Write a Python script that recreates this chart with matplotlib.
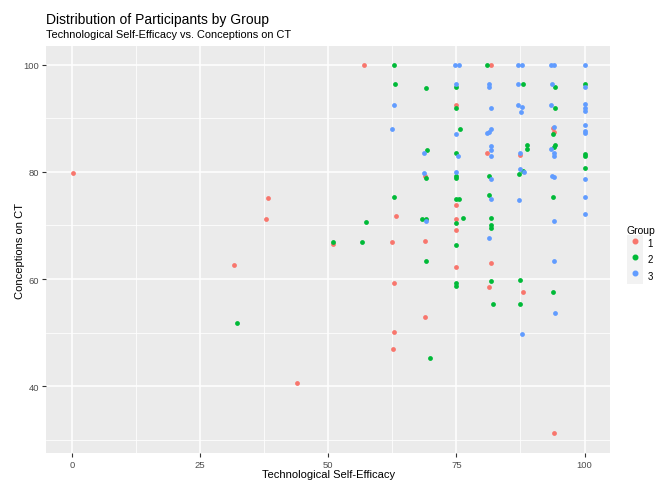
import matplotlib
matplotlib.use("Agg")
import matplotlib.pyplot as plt  # noqa: E402
from matplotlib.lines import Line2D  # noqa: E402
from matplotlib.patches import Patch  # noqa: E402
from matplotlib.legend_handler import HandlerTuple  # noqa: E402

plt.rcParams["font.family"] = ["Liberation Sans", "DejaVu Sans"]

# values (x = self-efficacy, y = conceptions on CT)
g1_x = [0.2, 31.7, 37.9, 38.3, 44.0, 50.9, 56.9, 62.5, 63.3, 62.8, 62.8, 62.7,
        68.9, 68.9, 68.9, 75.0, 75.0, 75.0, 75.0, 75.0, 81.7, 81.0, 81.7, 81.4,
        87.4, 88.0, 93.8, 94.0, 94.1]
g1_y = [79.8, 62.6, 71.2, 75.1, 40.7, 66.6, 100, 67.0, 71.8, 59.3, 50.1, 46.9,
        67.1, 79.2, 52.9, 92.5, 73.8, 71.3, 69.2, 62.2, 100, 83.6, 63.0, 58.5,
        83.2, 57.5, 88.1, 87.5, 31.2]

g2_x = [32.2, 50.9, 56.5, 57.3, 62.8, 63.0, 62.8, 69.1, 69.3, 69.0, 68.2, 69.1,
        69.1, 69.8, 75.0, 75.0, 75.7, 75.0, 75.0, 75.0, 75.0, 75.5, 76.3, 75.0,
        75.0, 75.0, 75.0, 81.0, 81.4, 81.4, 81.7, 81.7, 81.7, 81.7, 82.1, 88.0,
        88.8, 88.8, 88.0, 87.3, 87.4, 87.4, 94.2, 94.2, 93.9, 94.3, 94.0, 93.9,
        93.9, 100, 100, 100, 100]
g2_y = [51.8, 67.0, 66.9, 70.6, 100, 96.3, 75.4, 95.7, 84.1, 78.8, 71.2, 71.2,
        63.4, 45.3, 95.9, 92.0, 88.0, 83.6, 79.3, 78.8, 75.0, 75.0, 71.4, 70.4,
        66.3, 59.3, 58.8, 100, 79.2, 75.7, 71.4, 70.1, 69.6, 59.6, 55.3, 96.3,
        85.0, 84.3, 80.1, 79.6, 59.9, 55.4, 95.9, 92.0, 87.0, 85.0, 84.6, 75.4,
        57.5, 96.3, 83.3, 82.9, 80.8]

g3_x = [62.8, 62.4, 68.6, 68.6, 69.1, 74.7, 75.5, 75.0, 75.0, 75.4, 75.0, 81.4,
        81.4, 81.7, 81.7, 81.4, 81.0, 81.8, 81.7, 81.7, 81.7, 81.7, 81.4, 87.0,
        87.8, 87.0, 87.0, 87.8, 87.6, 87.4, 87.4, 88.2, 87.3, 87.8, 93.5, 94.1,
        93.7, 93.5, 94.1, 93.5, 94.1, 94.1, 93.6, 94.1, 94.1, 94.1, 94.3, 100,
        100, 100, 100, 100, 100, 100, 100, 100, 100, 100]
g3_y = [92.4, 88.0, 83.5, 79.8, 70.9, 100, 100, 96.3, 87.0, 83.0, 80.0, 96.3,
        95.9, 92.0, 88.0, 87.5, 87.2, 84.9, 84.1, 82.9, 78.7, 75.0, 67.6, 100,
        100, 96.3, 92.4, 92.1, 91.2, 83.6, 80.6, 79.9, 74.8, 49.7, 100, 100,
        96.3, 92.4, 88.3, 84.3, 83.6, 83.0, 79.3, 79.1, 70.8, 63.4, 53.6, 100,
        95.9, 92.6, 92.0, 91.4, 88.7, 87.7, 87.2, 78.7, 75.4, 72.1]

groups = ["1", "2", "3"]
colors = ["#F8766D", "#00BA38", "#619CFF"]

fig = plt.figure(figsize=(6.59, 4.81), dpi=100)
ax = fig.add_axes([0.070, 0.056, 0.856, 0.846])
ax.set_facecolor("#EBEBEB")
for s in ax.spines.values():
    s.set_visible(False)

for xs, ys, c in zip([g1_x, g2_x, g3_x], [g1_y, g2_y, g3_y], colors):
    ax.scatter(xs, ys, s=12, color=c, linewidths=0, zorder=3)

ax.set_xlim(-5, 105)
ax.set_ylim(27.55, 103.45)
ax.set_xticks([0, 25, 50, 75, 100])
ax.set_yticks([40, 60, 80, 100])
ax.set_xticks([12.5, 37.5, 62.5, 87.5], minor=True)
ax.set_yticks([30, 50, 70, 90], minor=True)
ax.grid(True, which="major", color="white", linewidth=1.1, zorder=0)
ax.grid(True, which="minor", color="white", linewidth=0.55, zorder=0)
ax.set_axisbelow(True)
ax.tick_params(which="major", length=2.7, width=0.8, color="#333333",
               labelsize=6.8, labelcolor="#4D4D4D", pad=2.3)
ax.tick_params(which="minor", length=0)

ax.set_xlabel("Technological Self-Efficacy", fontsize=8)
ax.xaxis.set_label_coords(0.5, -0.038)
ax.set_ylabel("Conceptions on CT", fontsize=8)
ax.yaxis.set_label_coords(-0.037, 0.5)

fig.text(0.070, 0.950, "Distribution of Participants by Group", fontsize=10,
         ha="left", va="baseline")
fig.text(0.070, 0.921, "Technological Self-Efficacy vs. Conceptions on CT",
         fontsize=7.9, ha="left", va="baseline")

handles = [(Patch(facecolor="#F2F2F2", edgecolor="none"),
            Line2D([], [], marker="o", ls="", color=c, markersize=3.3))
           for c in colors]
leg = fig.legend(handles, groups, title="Group", loc="center left",
                 bbox_to_anchor=(0.951, 0.469), frameon=False,
                 handler_map={tuple: HandlerTuple(ndivide=1, pad=0)},
                 handlelength=1.65, handleheight=2.2, handletextpad=0.5,
                 labelspacing=0.0, fontsize=7, title_fontsize=7.5,
                 borderpad=0, borderaxespad=0)
leg._legend_box.align = "left"

fig.savefig("out.png", dpi=100)
